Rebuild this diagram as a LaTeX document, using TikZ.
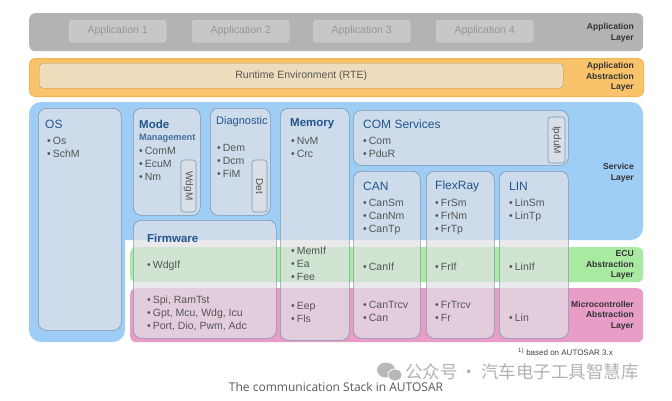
\documentclass[tikz,border=0pt]{standalone}
\usepackage{fontspec}
\setmainfont{Liberation Sans}
\newfontfamily\captionfont{Open Sans}
\newfontfamily\cjkfont{Noto Sans CJK SC}
\usetikzlibrary{positioning}

\definecolor{appgray}{HTML}{B3B3B3}
\definecolor{appbox}{HTML}{C7C7C7}
\definecolor{appline}{HTML}{D3D3D3}
\definecolor{apptext}{HTML}{969696}
\definecolor{rteorange}{HTML}{F8C36A}
\definecolor{rterim}{HTML}{F2B452}
\definecolor{rtefill}{HTML}{EEDDBD}
\definecolor{rteline}{HTML}{B89257}
\definecolor{servblue}{HTML}{9ECDF5}
\definecolor{ecugreen}{HTML}{A9EAA3}
\definecolor{mcalpink}{HTML}{E79DC6}
\definecolor{modfill}{HTML}{E2E2E6}
\definecolor{modline}{HTML}{7D97B0}
\definecolor{titleblue}{HTML}{22568E}
\definecolor{itemgray}{HTML}{555555}
\definecolor{layertext}{HTML}{333333}

% one stack of bullet entries, 13px apart
\newcommand{\itemstack}[4]{
  \foreach \t [count=\k from 0] in {#4}
    \node[item] (#1\k) at (#2,#3+13*\k) {\textbullet\hspace{2pt}\t};
}

\tikzset{
  layer/.style={anchor=north west, inner sep=0pt, rounded corners=6},
  module/.style={draw=modline, fill=modfill, fill opacity=.7, line width=.6pt,
    rounded corners=8, anchor=north west, inner sep=0pt},
  subbox/.style={draw=modline, fill=modfill, fill opacity=.6, text opacity=1,
    line width=.6pt, rounded corners=3, inner sep=0pt, rotate=-90,
    text=itemgray, font=\fontsize{10}{12}\selectfont},
  appbox/.style={anchor=north west, inner sep=0pt, fill=appbox, draw=appline,
    rounded corners=3, minimum width=97, minimum height=22, text=apptext,
    font=\fontsize{10.5}{12}\selectfont},
  title/.style={anchor=west, inner sep=0pt, text=titleblue,
    font=\fontsize{12}{14}\selectfont},
  btitle/.style={title, font=\fontsize{11.5}{14}\selectfont\bfseries},
  item/.style={anchor=west, inner sep=0pt, text=itemgray, text height=7.5pt,
    text depth=2pt, font=\fontsize{10.5}{13}\selectfont},
  layerlabel/.style={anchor=east, align=right, inner sep=0pt, text=layertext,
    font=\fontsize{8.6}{10.6}\selectfont\bfseries},
}

\begin{document}
\begin{tikzpicture}[x=1pt, y=-1pt]
\useasboundingbox (0,0) rectangle (672,400);
\fill[white] (0,0) rectangle (672,400);

% application layer
\node[layer, fill=appgray, minimum width=614, minimum height=38] (applayer) at (29,13) {};
\foreach \i/\x in {1/69,2/192,3/313,4/436}
  \node[appbox] (app\i) at (\x,20) {Application \i};
\node[layerlabel] (applbl) at (634,33) {Application\\Layer};

% RTE
\node[layer, fill=rteorange, draw=rterim, line width=1pt, minimum width=614, minimum height=38] (rtelayer) at (29,58) {};
\node[anchor=north west, inner sep=0pt, fill=rtefill, draw=rteline, rounded corners=4,
  minimum width=524, minimum height=25, text=itemgray,
  font=\fontsize{10.5}{12}\selectfont] (rte) at (39,63) {Runtime Environment (RTE)};
\node[layerlabel] (rtelbl) at (634,77) {Application\\Abstraction\\Layer};

% service layer (L shaped), ECU and MCAL bands
\fill[servblue, rounded corners=12] (29,102) rectangle (643,240);
\fill[servblue, rounded corners=12] (29,150) rectangle (125,342);
\node[layer, fill=ecugreen, minimum width=513, minimum height=35] (ecu) at (130,247) {};
\node[layer, fill=mcalpink, minimum width=513, minimum height=54] (mcal) at (130,288) {};
\node[layerlabel] (servlbl) at (634,172.5) {Service\\Layer};
\node[layerlabel] (eculbl) at (634,265) {ECU\\Abstraction\\Layer};
\node[layerlabel] (mcallbl) at (634,315.5) {Microcontroller\\Abstraction\\Layer};

% modules
\node[module, minimum width=83, minimum height=222] (os) at (38,108) {};
\node[module, minimum width=67, minimum height=107] (mode) at (133,108) {};
\node[module, minimum width=60, minimum height=107] (diag) at (210,108) {};
\node[module, minimum width=69, minimum height=232] (memory) at (280,108) {};
\node[module, minimum width=143, minimum height=118] (firmware) at (133,220) {};
\node[module, minimum width=215, minimum height=55] (com) at (353,110) {};
\node[module, minimum width=67, minimum height=167] (can) at (353,171) {};
\node[module, minimum width=68, minimum height=167] (flexray) at (426,171) {};
\node[module, minimum width=69, minimum height=167] (lin) at (499,171) {};

\node[subbox, minimum width=52, minimum height=15] (wdgm) at (188.5,186) {WdgM};
\node[subbox, minimum width=52, minimum height=15] (det) at (259.5,186) {Det};
\node[subbox, minimum width=46, minimum height=17] (ipdum) at (556.5,140) {IpduM};

% OS
\node[title] (ostitle) at (45,124) {OS};
\itemstack{os}{47}{142}{Os,SchM}
% Mode Management
\node[btitle] (modetitle) at (139,124) {Mode};
\node[anchor=west, inner sep=0pt, text=titleblue!85, font=\fontsize{9.2}{11}\selectfont\bfseries] (modesub) at (139,138) {Management};
\itemstack{mode}{139}{152}{ComM,EcuM,Nm}
% Diagnostic
\node[title, font=\fontsize{11}{13}\selectfont] (diagtitle) at (216,122) {Diagnostic};
\itemstack{diag}{217}{149}{Dem,Dcm,FiM}
% Memory
\node[btitle] (memtitle) at (290,124) {Memory};
\itemstack{mem}{291}{142}{NvM,Crc}
\itemstack{memif}{291}{252}{MemIf,Ea,Fee}
\itemstack{memdrv}{291}{307}{Eep,Fls}
% COM services
\node[title] (comtitle) at (363,124) {COM Services};
\itemstack{com}{363}{142}{Com,PduR}
% CAN
\node[title] (cantitle) at (363,186) {CAN};
\itemstack{can}{363}{204}{CanSm,CanNm,CanTp}
\itemstack{canif}{363}{268}{CanIf}
\itemstack{candrv}{363}{306}{CanTrcv,Can}
% FlexRay
\node[title] (frtitle) at (435,186) {FlexRay};
\itemstack{fr}{435}{204}{FrSm,FrNm,FrTp}
\itemstack{frif}{435}{268}{FrIf}
\itemstack{frdrv}{435}{306}{FrTrcv,Fr}
% LIN
\node[title] (lintitle) at (509,186) {LIN};
\itemstack{lin}{509}{204}{LinSm,LinTp}
\itemstack{linif}{509}{268}{LinIf}
\itemstack{lindrv}{509}{319}{Lin}
% Firmware
\node[btitle] (fwtitle) at (147,238) {Firmware};
\itemstack{fwif}{147}{266}{WdgIf}
\itemstack{fw}{147}{301}{{Spi, RamTst},{Gpt, Mcu, Wdg, Icu},{Port, Dio, Pwm, Adc}}

% footnote, watermark, caption
\node[anchor=west, inner sep=0pt, text=black!75, font=\fontsize{8}{9}\selectfont] (note) at (518,352) {\textsuperscript{1)} based on AUTOSAR 3.x};
\fill[black!28] (386,370) ellipse (9 and 7.5);
\fill[black!28, draw=white, line width=.8pt] (395,375) ellipse (7 and 6);
\node[anchor=west, inner sep=0pt, text=black!30, font=\cjkfont\fontsize{17.5}{19}\selectfont] (mark) at (405,372) {公众号\hspace{3pt}·\hspace{3pt}汽车电子工具智慧库};
\node[inner sep=0pt, text=black!65, font=\captionfont\fontsize{12}{14}\selectfont] (caption) at (336,387) {The communication Stack in AUTOSAR};
\end{tikzpicture}
\end{document}
